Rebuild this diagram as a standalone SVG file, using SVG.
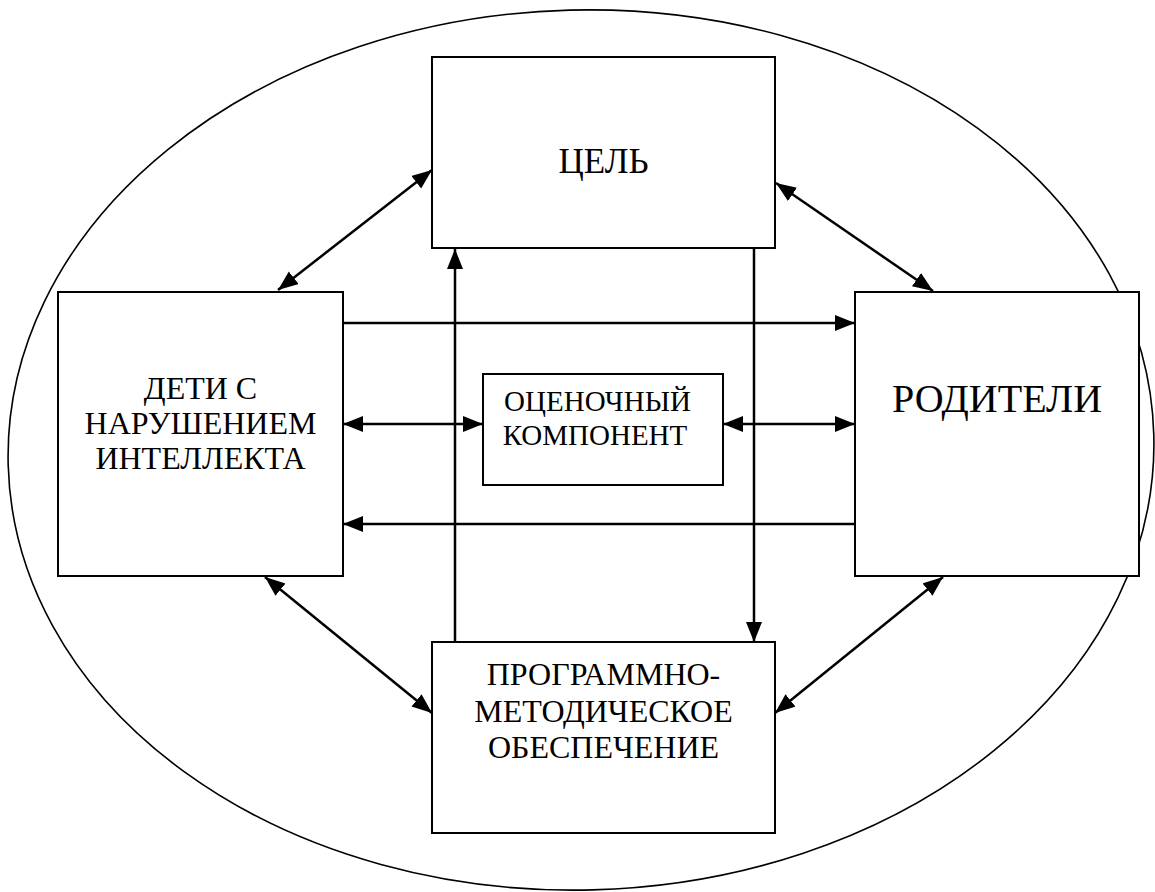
<svg xmlns="http://www.w3.org/2000/svg" width="1155" height="892" viewBox="0 0 1155 892">
  <style>
    .box { fill: #fff; stroke: #000; stroke-width: 2; }
    .lbl { font-family: "Liberation Serif", "Times New Roman", serif; fill: #000; text-anchor: middle; }
    .conn { stroke: #000; stroke-width: 2.5; fill: none; marker-end: url(#ah); }
    .dbl { marker-start: url(#ah); }
  </style>
  <defs>
    <marker id="ah" markerUnits="userSpaceOnUse" markerWidth="22" markerHeight="18" refX="20" refY="8" orient="auto-start-reverse">
      <path d="M0,0 L20,8 L0,16 z" fill="#000"/>
    </marker>
  </defs>
  <rect width="1155" height="892" fill="#fff"/>
  <ellipse id="frame" cx="581" cy="450" rx="573" ry="440" transform="rotate(-1.5 581 450)" fill="none" stroke="#000" stroke-width="1.6"/>

  <g id="goal">
    <rect class="box" x="432" y="57" width="343" height="191"/>
    <text class="lbl" x="603.5" y="173" font-size="35">ЦЕЛЬ</text>
  </g>
  <g id="children">
    <rect class="box" x="58" y="292" width="285" height="284"/>
    <text class="lbl" x="200.5" font-size="32"><tspan x="200.5" y="399">ДЕТИ С</tspan><tspan x="200.5" y="434">НАРУШЕНИЕМ</tspan><tspan x="200.5" y="469">ИНТЕЛЛЕКТА</tspan></text>
  </g>
  <g id="parents">
    <rect class="box" x="855" y="292" width="284" height="284"/>
    <text class="lbl" x="997" y="412" font-size="40">РОДИТЕЛИ</text>
  </g>
  <g id="evaluation">
    <rect class="box" x="483" y="374" width="240" height="111"/>
    <text class="lbl" font-size="29"><tspan x="597.5" y="411">ОЦЕНОЧНЫЙ</tspan><tspan x="595" y="445">КОМПОНЕНТ</tspan></text>
  </g>
  <g id="program">
    <rect class="box" x="432" y="642" width="343" height="191"/>
    <text class="lbl" font-size="32"><tspan x="603.5" y="685">ПРОГРАММНО-</tspan><tspan x="603.5" y="722">МЕТОДИЧЕСКОЕ</tspan><tspan x="603.5" y="758">ОБЕСПЕЧЕНИЕ</tspan></text>
  </g>

  <g id="connectors">
    <line class="conn dbl" x1="278" y1="290" x2="432" y2="170"/>
    <line class="conn dbl" x1="776" y1="183" x2="933" y2="291"/>
    <line class="conn dbl" x1="265" y1="577" x2="432" y2="713"/>
    <line class="conn dbl" x1="943" y1="577" x2="775" y2="713"/>
    <line class="conn" x1="455" y1="642" x2="455" y2="249"/>
    <line class="conn" x1="754" y1="249" x2="754" y2="642"/>
    <line class="conn" x1="343" y1="323" x2="855" y2="323"/>
    <line class="conn" x1="855" y1="524" x2="343" y2="524"/>
    <line class="conn dbl" x1="343" y1="424" x2="483" y2="424"/>
    <line class="conn dbl" x1="723" y1="424" x2="855" y2="424"/>
  </g>
</svg>
